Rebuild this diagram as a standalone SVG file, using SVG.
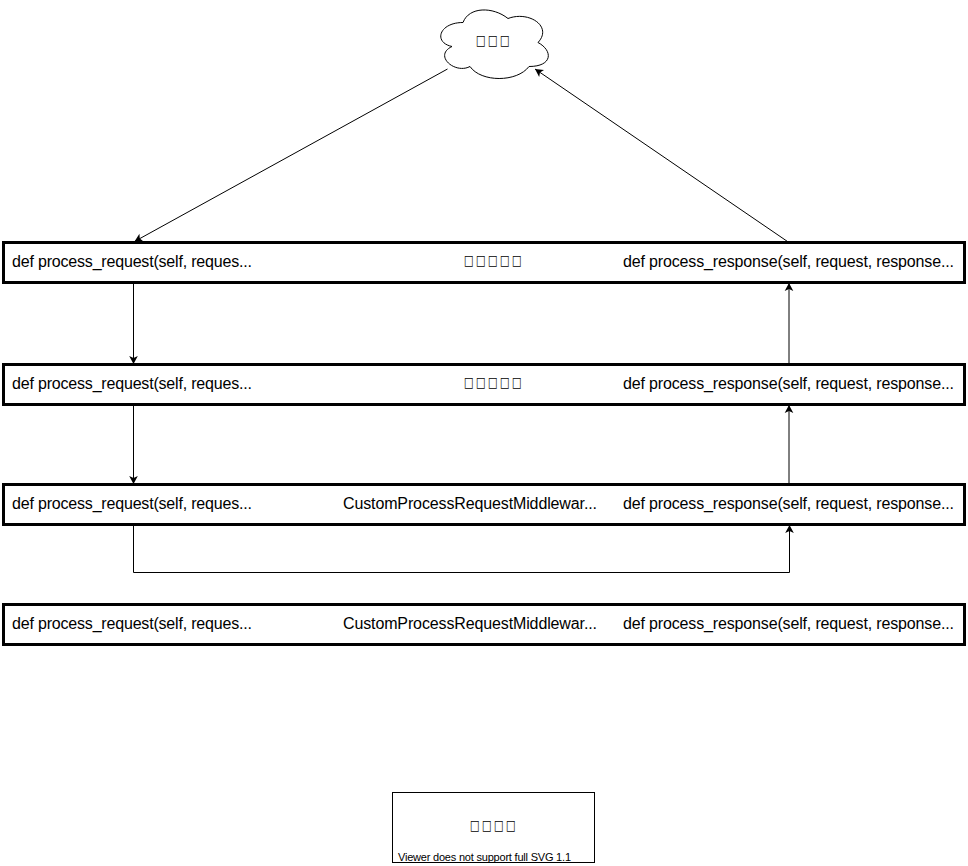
<svg xmlns="http://www.w3.org/2000/svg" width="968" height="866" viewBox="0 0 968 866">
  <style>
    text { font-family: "Liberation Sans", Arial, sans-serif; font-size: 16px; fill: #000; }
    text.tofu { font-family: "DejaVu Sans", sans-serif; font-size: 14.500px; letter-spacing: 2.960px; text-anchor: middle; }
    .row { fill: #fff; stroke: #000; stroke-width: 3; }
    .edge { fill: none; stroke: #000; stroke-width: 1; }
    .note { font-size: 11px; }
    .box { fill: #fff; stroke: #000; stroke-width: 1; }
  </style>
  <defs>
    <marker id="arrow" markerUnits="userSpaceOnUse" markerWidth="10" markerHeight="10" refX="9" refY="5" orient="auto">
      <path d="M1 0.700 L9 5 L1 9.300 L3 5 Z" fill="#000"/>
    </marker>
  </defs>

  <g id="connectors">
    <path class="edge" marker-end="url(#arrow)" d="M447.500 69 L134.500 241.500"/>
    <path class="edge" marker-end="url(#arrow)" d="M787.500 241.500 L535 69"/>
    <path class="edge" marker-end="url(#arrow)" d="M133.500 283 V364"/>
    <path class="edge" marker-end="url(#arrow)" d="M133.500 405 V484"/>
    <path class="edge" marker-end="url(#arrow)" d="M133.500 525 V572.500 H789.500 V525"/>
    <path class="edge" marker-end="url(#arrow)" d="M789 484 V405"/>
    <path class="edge" marker-end="url(#arrow)" d="M789 364 V283"/>
  </g>

  <g id="cloud">
    <path class="box" d="M463 22.500 C439 22.500 433 42.500 452 46.500 C433 55.500 455 74.500 470 66.500 C481 82.500 517 82.500 529 66.500 C553 66.500 553 50.500 538 42.500 C553 26.500 529 10.500 508 18.500 C493 6.500 469 6.500 463 22.500 Z"/>
    <text class="tofu" transform="translate(494 45) scale(.72 1)">□□□</text>
  </g>

  <g id="row-1">
    <rect class="row" x="3.500" y="242.500" width="961" height="40"/>
    <text x="12" y="267" textLength="240">def process_request(self, reques...</text>
    <text class="tofu" transform="translate(494 265) scale(.72 1)">□□□□□</text>
    <text x="623" y="267" textLength="331">def process_response(self, request, response...</text>
  </g>
  <g id="row-2">
    <rect class="row" x="3.500" y="364.500" width="961" height="40"/>
    <text x="12" y="389" textLength="240">def process_request(self, reques...</text>
    <text class="tofu" transform="translate(494 387) scale(.72 1)">□□□□□</text>
    <text x="623" y="389" textLength="331">def process_response(self, request, response...</text>
  </g>
  <g id="row-3">
    <rect class="row" x="3.500" y="484.500" width="961" height="40"/>
    <text x="12" y="509" textLength="240">def process_request(self, reques...</text>
    <text x="343" y="509" textLength="254">CustomProcessRequestMiddlewar...</text>
    <text x="623" y="509" textLength="331">def process_response(self, request, response...</text>
  </g>
  <g id="row-4">
    <rect class="row" x="3.500" y="604.500" width="961" height="40"/>
    <text x="12" y="629" textLength="240">def process_request(self, reques...</text>
    <text x="343" y="629" textLength="254">CustomProcessRequestMiddlewar...</text>
    <text x="623" y="629" textLength="331">def process_response(self, request, response...</text>
  </g>

  <g id="caption">
    <rect class="box" x="392.500" y="792.500" width="202" height="70"/>
    <text class="tofu" transform="translate(494 830) scale(.72 1)">□□□□</text>
    <text class="note" x="398" y="861" textLength="173">Viewer does not support full SVG 1.1</text>
  </g>
</svg>
